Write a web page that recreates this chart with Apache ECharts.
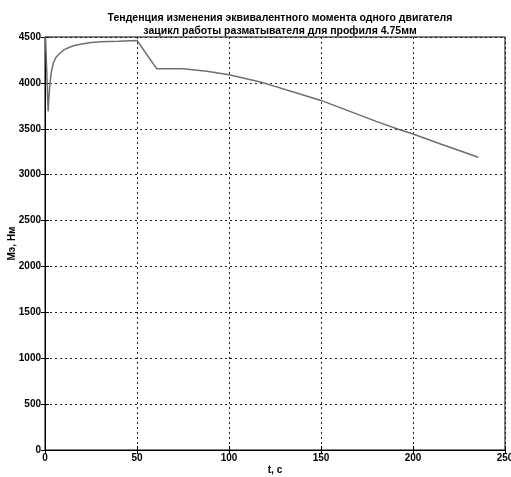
<!DOCTYPE html>
<html>
<head>
<meta charset="utf-8">
<script src="https://cdn.jsdelivr.net/npm/echarts@6/dist/echarts.min.js"></script>
<style>html,body{margin:0;padding:0;background:#fff}#c{width:511px;height:477px}</style>
</head>
<body>
<div id="c"></div>
<script>
const titleLines = ['Тенденция изменения эквивалентного момента одного двигателя', 'зацикл работы разматывателя для профиля 4.75мм'];
const xName = 't, c';
const yName = 'Мэ, Нм';
const times = [0.3, 1.7, 2.2, 2.7, 3.5, 4.5, 6, 8.2, 10.5, 13.6, 16.5, 20.8, 25, 30, 35, 40, 41, 50, 60.7, 75, 88, 100, 110, 117, 125, 135, 150, 165, 180, 192, 200, 215, 235.5];
const values = [4500, 3690, 3860, 4000, 4125, 4217, 4280, 4326, 4362, 4391, 4410, 4427, 4440, 4449, 4452, 4455, 4462, 4462, 4155, 4155, 4128, 4089, 4042, 4010, 3962, 3900, 3809, 3695, 3581, 3495, 3443, 3335, 3190];
const xTicks = {min: 0, max: 250, interval: 50};
const yTicks = {min: 0, max: 4500, interval: 500};

const chart = echarts.init(document.getElementById('c'));
const labelFont = {fontFamily: 'Liberation Sans, Arial', fontWeight: 'bold', fontSize: 10, color: '#000'};
const mirror = (base) => Object.assign({}, base, {
  name: '', axisLabel: {show: false}, splitLine: {show: false}, axisLine: {show: false},
  axisTick: {show: true, inside: true, length: 4, lineStyle: {color: '#000'}}
});
const xBase = {
  type: 'value', min: xTicks.min, max: xTicks.max, interval: xTicks.interval,
  name: xName, nameLocation: 'middle', nameGap: 15, nameMoveOverlap: false, nameTextStyle: labelFont,
  axisLine: {show: true, lineStyle: {color: '#000', width: 1}},
  axisTick: {show: true, inside: true, length: 4, lineStyle: {color: '#000'}},
  axisLabel: Object.assign({margin: 3, formatter: v => String(v)}, labelFont),
  splitLine: {show: true, lineStyle: {color: '#222', type: [2, 3], width: 1}}
};
const yBase = {
  type: 'value', min: yTicks.min, max: yTicks.max, interval: yTicks.interval,
  name: yName, nameLocation: 'middle', nameGap: 28, nameMoveOverlap: false, nameTextStyle: labelFont,
  axisLine: {show: true, lineStyle: {color: '#000', width: 1}},
  axisTick: {show: true, inside: true, length: 4, lineStyle: {color: '#000'}},
  axisLabel: Object.assign({margin: 4, formatter: v => String(v)}, labelFont),
  splitLine: {show: true, lineStyle: {color: '#222', type: [2, 3], width: 1}}
};
chart.setOption({
  animation: false,
  backgroundColor: '#fff',
  title: {
    text: titleLines.join('\n'),
    left: 275, top: 7, textAlign: 'center',
    textStyle: {fontFamily: 'Liberation Sans, Arial', fontWeight: 'bold', fontSize: 10.5, color: '#000', lineHeight: 13}
  },
  grid: {left: 45, right: 6, top: 37, bottom: 27, show: true, borderColor: '#000', borderWidth: 1, containLabel: false, outerBoundsMode: 'none'},
  xAxis: [xBase, Object.assign(mirror(xBase), {position: 'top'})],
  yAxis: [yBase, Object.assign(mirror(yBase), {position: 'right'})],
  series: [{
    type: 'line',
    data: times.map((t, i) => [t, values[i]]),
    showSymbol: false,
    lineStyle: {color: '#6e6e6e', width: 1.5},
    clip: true
  }]
});
</script>
</body>
</html>
